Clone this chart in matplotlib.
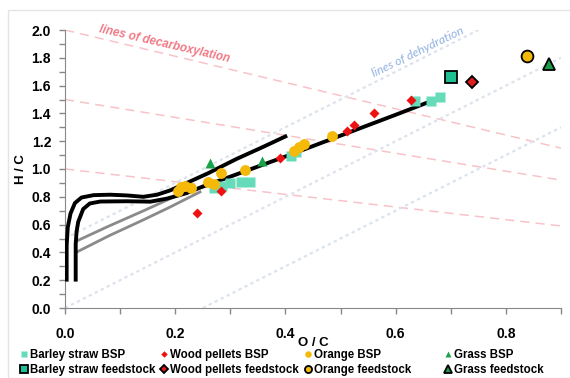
import numpy as np
import matplotlib
matplotlib.use("Agg")
import matplotlib.pyplot as plt
from matplotlib.patches import Rectangle

plt.rcParams['font.family'] = ['Liberation Sans', 'DejaVu Sans']

# --- data ---
barley_bsp_x = [0.27, 0.285, 0.30, 0.32, 0.335, 0.41, 0.42, 0.635, 0.665, 0.68]
barley_bsp_y = [0.86, 0.88, 0.90, 0.91, 0.91, 1.09, 1.12, 1.49, 1.49, 1.52]
wood_bsp_x = [0.24, 0.283, 0.39, 0.512, 0.525, 0.56, 0.627]
wood_bsp_y = [0.68, 0.84, 1.08, 1.27, 1.32, 1.40, 1.50]
orange_bsp_x = [0.205, 0.21, 0.218, 0.228, 0.26, 0.27, 0.283, 0.327, 0.415, 0.425, 0.433, 0.484]
orange_bsp_y = [0.84, 0.87, 0.88, 0.86, 0.905, 0.895, 0.97, 0.995, 1.13, 1.16, 1.18, 1.235]
grass_bsp_x = [0.264, 0.358]
grass_bsp_y = [1.04, 1.06]

barley_feed = (0.70, 1.66)
wood_feed = (0.738, 1.625)
orange_feed = (0.838, 1.81)
grass_feed = (0.878, 1.755)

# black trend curves
upper_x = [0.003, 0.003, 0.005, 0.010, 0.018, 0.030, 0.052, 0.082, 0.112, 0.142, 0.167,
           0.19, 0.21, 0.26, 0.31, 0.36, 0.403]
upper_y = [0.19, 0.45, 0.58, 0.68, 0.755, 0.795, 0.812, 0.815, 0.81, 0.80, 0.815,
           0.845, 0.88, 0.97, 1.07, 1.16, 1.24]
lower_x = [0.0194, 0.0194, 0.021, 0.024, 0.033, 0.045, 0.064, 0.112, 0.155, 0.185, 0.221,
           0.245, 0.30, 0.40, 0.50, 0.60, 0.685]
lower_y = [0.19, 0.46, 0.55, 0.62, 0.712, 0.752, 0.766, 0.768, 0.765, 0.787, 0.827,
           0.866, 0.945, 1.09, 1.24, 1.39, 1.52]
# grey curves
grey1_x = [0.02, 0.08, 0.14, 0.19, 0.23]
grey1_y = [0.48, 0.59, 0.695, 0.785, 0.86]
grey2_x = [0.02, 0.08, 0.14, 0.19, 0.245]
grey2_y = [0.40, 0.52, 0.63, 0.725, 0.835]

# guide lines
decarb_start = [2.0, 1.5, 1.0]   # H/C at O/C = 0
decarb_end = [1.15, 0.92, 0.59]  # H/C at O/C = 0.9
dehyd_icpt = [0.5, 0.0, -0.5]    # slope 2

fig = plt.figure(figsize=(5.7, 3.78), dpi=100)
ax = fig.add_axes([65/570, 1-308/378, (561-65)/570, (308-30)/378])

# chart border
fig.patches.append(Rectangle((8/570, 0), 1, 1-10/378, transform=fig.transFigure,
                             fill=False, edgecolor='#e4e4e4', lw=1))

for s, e in zip(decarb_start, decarb_end):
    ax.plot([0, 0.9], [s, e], color='#f8c3c8', lw=1.1, dashes=(6, 4), zorder=1)
for b in dehyd_icpt:
    x0 = max(0, -b/2)
    x1 = min(0.9, (2 - b)/2)
    ax.plot([x0, x1], [2*x0 + b, 2*x1 + b], color='#dde3ee', lw=1.6, dashes=(1.5, 1.5), zorder=1)

ax.plot(grey1_x, grey1_y, color='#8a8a8a', lw=2, zorder=2)
ax.plot(grey2_x, grey2_y, color='#8a8a8a', lw=2, zorder=2)
ax.plot(upper_x, upper_y, color='black', lw=2.8, zorder=3, solid_capstyle='butt')
ax.plot(lower_x, lower_y, color='black', lw=2.8, zorder=3, solid_capstyle='butt')

h1, = ax.plot(barley_bsp_x, barley_bsp_y, 's', ms=6.5, color='#66dbb9', mec='none',
              label='Barley straw BSP', zorder=4)
h2, = ax.plot(wood_bsp_x, wood_bsp_y, 'D', ms=5.5, color='#ee1111', mec='none',
              label='Wood pellets BSP', zorder=4)
h3, = ax.plot(orange_bsp_x, orange_bsp_y, 'o', ms=7.8, color='#f5b90a', mec='none',
              label='Orange BSP', zorder=4)
h4, = ax.plot(grass_bsp_x, grass_bsp_y, '^', ms=7.5, color='#1aa34a', mec='none',
              label='Grass BSP', zorder=4)
f1, = ax.plot(*barley_feed, 's', ms=8.5, color='#1fbf94', mec='black', mew=1.3,
              label='Barley straw feedstock', zorder=5)
f2, = ax.plot(*wood_feed, 'D', ms=6.5, color='#e01c1c', mec='black', mew=1.3,
              label='Wood pellets feedstock', zorder=5)
f3, = ax.plot(*orange_feed, 'o', ms=8.5, color='#f5b90a', mec='black', mew=1.3,
              label='Orange feedstock', zorder=5)
f4, = ax.plot(*grass_feed, '^', ms=9, color='#1a9c4a', mec='black', mew=1.3,
              label='Grass feedstock', zorder=5)

ax.text(0.181, 1.90, 'lines of decarboxylation', color='#f07a86', fontsize=8.4,
        fontstyle='italic', fontweight='bold', rotation=-13, ha='center', va='center')
ax.text(0.64, 1.845, 'lines of dehydration', color='#8fb0e0', fontsize=8.8,
        family='Lato', fontstyle='italic', rotation=26, ha='center', va='center')

ax.set_xlim(0, 0.9)
ax.set_ylim(0, 2.0)
ax.set_xticks(np.arange(0, 0.91, 0.2))
ax.set_xticks(np.arange(0, 0.91, 0.1), minor=True)
ax.set_yticks(np.arange(0, 2.01, 0.2))
ax.set_yticks(np.arange(0, 2.01, 0.1), minor=True)
ax.xaxis.set_major_formatter(matplotlib.ticker.FormatStrFormatter('%.1f'))
ax.yaxis.set_major_formatter(matplotlib.ticker.FormatStrFormatter('%.1f'))
for lab in ax.get_xticklabels() + ax.get_yticklabels():
    lab.set_fontweight('bold')
    lab.set_fontsize(10)
ax.tick_params(axis='both', which='both', length=4, color='#888888', width=1)
ax.tick_params(axis='x', pad=10)
ax.tick_params(axis='y', pad=6)
for side in ['top', 'right']:
    ax.spines[side].set_visible(False)
for side in ['left', 'bottom']:
    ax.spines[side].set_color('#888888')

ax.set_xlabel('O / C', fontsize=9.5, fontweight='bold', labelpad=-3.5)
ax.set_ylabel('H / C', fontsize=9.5, fontweight='bold', labelpad=3)

cols = [(24, h1, f1), (164, h2, f2), (307.5, h3, f3), (447.5, h4, f4)]
for mx, hb, hf in cols:
    fig.legend(handles=[hb, hf], loc='upper left',
               bbox_to_anchor=((mx - 4.6)/570, 1 - 349/378),
               frameon=False, prop={'weight': 'bold', 'size': 8.3},
               handlelength=0.8, handletextpad=0.15, borderpad=0, borderaxespad=0,
               labelspacing=0.3, markerscale=0.6)

fig.savefig('out.png', dpi=100)
